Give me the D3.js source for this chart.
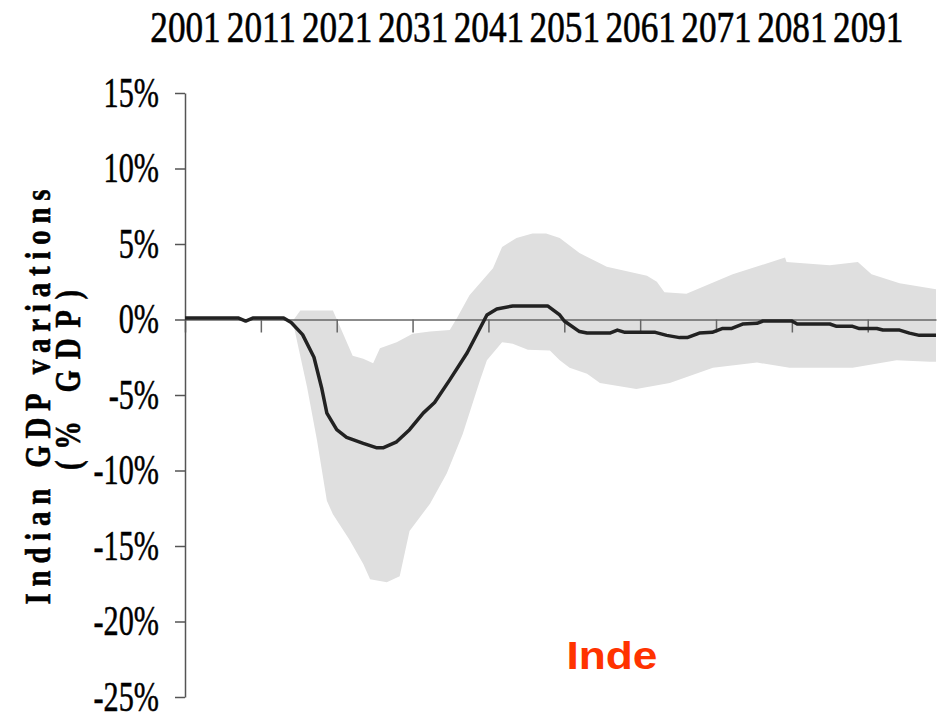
<!DOCTYPE html>
<html>
<head>
<meta charset="utf-8">
<script src="https://cdn.jsdelivr.net/npm/d3@7"></script>
<style>
  body { margin: 0; background: #fff; }
  svg { display: block; }
</style>
</head>
<body>
<div id="chart"></div>
<script>
/********************************************************/
// tick labels
const yearTicks = [2001, 2011, 2021, 2031, 2041, 2051, 2061, 2071, 2081, 2091];
const pctTicks = [15, 10, 5, 0, -5, -10, -15, -20, -25];
/********************************************************/
// central estimate (black line)
const lineYears = [2001, 2008, 2009, 2010, 2014, 2015, 2016.5, 2018, 2019, 2019.7, 2021, 2022.3, 2024.5, 2026.3, 2027.1,
  2028.9, 2030.6, 2032.4, 2033.9, 2035.9, 2038.2, 2040.8, 2042.1, 2044.2, 2048.8, 2050.4, 2051, 2053, 2054, 2057,
  2058, 2059, 2063, 2064.5, 2066.2, 2067.2, 2068.8, 2070.5, 2071.8, 2073, 2074.5, 2076.4, 2077.2, 2081, 2081.7,
  2086, 2086.9, 2089, 2089.9, 2092.2, 2093, 2095.2, 2096.5, 2097.8, 2100];
const lineValues = [0.1, 0.1, -0.1, 0.1, 0.1, -0.2, -1.0, -2.5, -4.5, -6.2, -7.3, -7.8, -8.2, -8.5, -8.5,
  -8.1, -7.3, -6.2, -5.5, -4.0, -2.2, 0.3, 0.7, 0.9, 0.9, 0.3, -0.1, -0.8, -0.9, -0.9,
  -0.7, -0.85, -0.85, -1.05, -1.2, -1.2, -0.9, -0.85, -0.6, -0.6, -0.3, -0.25, -0.1, -0.1, -0.3,
  -0.3, -0.45, -0.45, -0.6, -0.6, -0.7, -0.7, -0.9, -1.05, -1.05];
/********************************************************/
// uncertainty range (grey band)
const upperYears = [2015.2, 2016.2, 2020.5, 2021.8, 2023.1, 2024.5, 2025.8, 2026.7, 2028.9, 2031, 2033.3, 2035.9,
  2036.8, 2038.5, 2041.6, 2042.8, 2044.7, 2046.8, 2048.6, 2050.4, 2053, 2056.6, 2061.9, 2063.2, 2064.2, 2067.1,
  2073.2, 2080.1, 2080.3, 2086, 2089.7, 2091.5, 2095.2, 2100];
const upperValues = [-0.1, 0.6, 0.6, -0.9, -2.4, -2.6, -2.9, -1.9, -1.5, -0.95, -0.8, -0.7,
  0.05, 1.6, 3.4, 4.8, 5.4, 5.7, 5.7, 5.4, 4.4, 3.5, 2.9, 2.5, 1.8, 1.7,
  3.0, 4.1, 3.8, 3.6, 3.8, 3.0, 2.4, 2.0];
const lowerYears = [2015.2, 2015.8, 2017.1, 2018.4, 2019.7, 2020.5, 2022.7, 2024.5, 2025.4, 2027.6, 2029.3, 2030.6,
  2033.3, 2035.5, 2037.6, 2039.9, 2040.8, 2042.8, 2044.2, 2046.2, 2049.1, 2050.4, 2051.7, 2054, 2055.7, 2060.5,
  2064.9, 2070.6, 2076.4, 2080.7, 2089, 2094.8, 2099.2, 2100];
const lowerValues = [-0.1, -1.5, -4.5, -8.0, -12.0, -12.9, -14.6, -16.2, -17.2, -17.4, -17.0, -14.0,
  -12.2, -10.2, -7.6, -4.0, -2.7, -1.5, -1.6, -2.0, -2.05, -2.7, -3.2, -3.6, -4.2, -4.6,
  -4.2, -3.2, -2.85, -3.2, -3.2, -2.7, -2.8, -2.8];
/********************************************************/
const svgWidth = 945;
const svgHeight = 712;

const svg = d3.select("#chart").append("svg").attr("width", svgWidth).attr("height", svgHeight);

const x = d3.scaleLinear().domain([2001, 2100]).range([185, 936]);
const y = d3.scaleLinear().domain([-25, 15]).range([697, 93]);

const serif = "'Liberation Serif', 'DejaVu Serif', serif";
/********************************************************/
// band
const upperPts = upperYears.map((yr, i) => [x(yr), y(upperValues[i])]);
const lowerPts = lowerYears.map((yr, i) => [x(yr), y(lowerValues[i])]).reverse();
svg.append("path")
  .attr("d", d3.line()(upperPts.concat(lowerPts)) + "Z")
  .attr("fill", "#dfdfdf")
  .attr("stroke", "none");
/********************************************************/
// zero line with decade ticks
const zeroAxis = svg.append("g")
  .attr("transform", `translate(0, ${y(0)})`)
  .call(d3.axisBottom(x).tickValues(yearTicks).tickSize(13).tickSizeOuter(0).tickFormat(""));
zeroAxis.selectAll("path, line").attr("stroke", "#666").attr("stroke-width", 1.5);
/********************************************************/
// left axis
const leftAxis = svg.append("g")
  .attr("transform", "translate(185, 0)")
  .call(d3.axisLeft(y).tickValues(pctTicks).tickSize(10).tickSizeOuter(0).tickPadding(16).tickFormat((d) => d + "%"));
leftAxis.selectAll("path, line").attr("stroke", "#555").attr("stroke-width", 1.5);
leftAxis.attr("font-family", serif).attr("font-size", 42);
leftAxis.selectAll("text")
  .attr("fill", "#000")
  .attr("stroke", "#000")
  .attr("stroke-width", 0.5)
  .attr("x", -26 / 0.72)
  .attr("transform", "scale(0.72,1)");
/********************************************************/
// top year labels
const topAxis = svg.append("g")
  .attr("transform", "translate(0, 42)")
  .call(d3.axisTop(x).tickValues(yearTicks).tickSize(0).tickPadding(0).tickFormat(d3.format("d")));
topAxis.select(".domain").remove();
topAxis.attr("font-family", serif).attr("font-size", 44);
topAxis.selectAll("text")
  .attr("fill", "#000")
  .attr("stroke", "#000")
  .attr("stroke-width", 0.6)
  .attr("transform", "scale(0.8,1)");
/********************************************************/
// central line
svg.append("path")
  .datum(lineYears.map((yr, i) => [yr, lineValues[i]]))
  .attr("d", d3.line().x((d) => x(d[0])).y((d) => y(d[1])))
  .attr("fill", "none")
  .attr("stroke", "#222")
  .attr("stroke-width", 3.5)
  .attr("stroke-linejoin", "round");
/********************************************************/
// axis title
svg.append("text")
  .attr("transform", "translate(50, 397) rotate(-90) scale(0.8,1)")
  .attr("text-anchor", "middle")
  .attr("font-family", serif)
  .attr("font-weight", "bold")
  .attr("font-size", 36)
  .attr("stroke", "#000")
  .attr("stroke-width", 0.6)
  .attr("textLength", 415 / 0.8)
  .attr("lengthAdjust", "spacing")
  .text("Indian GDP variations");
svg.append("text")
  .attr("transform", "translate(80, 380) rotate(-90) scale(0.8,1)")
  .attr("text-anchor", "middle")
  .attr("font-family", serif)
  .attr("font-weight", "bold")
  .attr("font-size", 36)
  .attr("stroke", "#000")
  .attr("stroke-width", 0.6)
  .attr("textLength", 180 / 0.8)
  .attr("lengthAdjust", "spacing")
  .text("(% GDP)");
/********************************************************/
// country label
svg.append("text")
  .attr("x", 612)
  .attr("y", 669)
  .attr("text-anchor", "middle")
  .attr("font-family", "'Liberation Sans', Arial, sans-serif")
  .attr("font-weight", "bold")
  .attr("font-size", 38)
  .attr("fill", "#ff3300")
  .attr("textLength", 91)
  .attr("lengthAdjust", "spacingAndGlyphs")
  .text("Inde");
</script>
</body>
</html>
